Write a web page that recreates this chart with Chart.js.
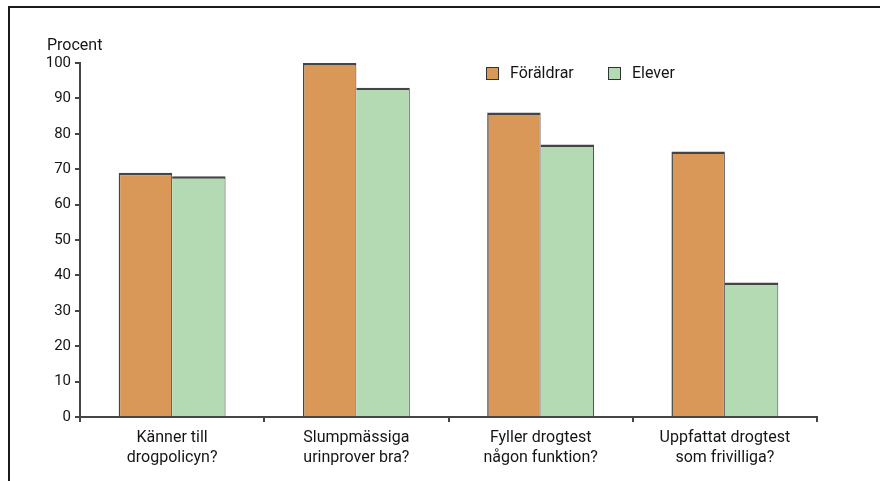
<!DOCTYPE html>
<html>
<head>
<meta charset="utf-8">
<script src="https://cdn.jsdelivr.net/npm/chart.js@4"></script>
<style>
  html, body { margin: 0; padding: 0; background: #fff; }
  #wrap { width: 880px; height: 481px; }
</style>
</head>
<body>
<div id="wrap"><canvas id="chart" width="880" height="481"></canvas></div>
<script>
const categories = [
  ["Känner till", "drogpolicyn?"],
  ["Slumpmässiga", "urinprover bra?"],
  ["Fyller drogtest", "någon funktion?"],
  ["Uppfattat drogtest", "som frivilliga?"],
];
const foraldrar = [69, 100, 86, 75];
const elever = [68, 93, 77, 38];
const yTicks = [0, 10, 20, 30, 40, 50, 60, 70, 80, 90, 100];

const FONT = "'Liberation Sans Narrow', 'Arial Narrow', Roboto, sans-serif";
const ink = "#151515";
const axisGrey = "#454545";

// frame lines, axis title and legend drawn on the canvas
const extras = {
  id: "extras",
  afterDraw(chart) {
    const c = chart.ctx;
    c.save();
    c.strokeStyle = "#1a1a1a";
    c.lineWidth = 2;
    c.beginPath();
    c.moveTo(9, 481);
    c.lineTo(9, 7);
    c.lineTo(880, 7);
    c.stroke();

    c.fillStyle = ink;
    c.font = "16px " + FONT;
    c.textBaseline = "middle";
    c.textAlign = "left";
    c.fillText("Procent", 47, 46);

    let x = 486;
    chart.data.datasets.forEach((ds) => {
      c.fillStyle = ds.backgroundColor;
      c.fillRect(x, 67, 13, 13);
      c.strokeStyle = "#333";
      c.lineWidth = 1;
      c.strokeRect(x + 0.5, 67.5, 12, 12);
      c.fillStyle = ink;
      c.fillText(ds.label, x + 24, 74);
      x += 122;
    });
    c.restore();
  }
};

new Chart(document.getElementById("chart"), {
  type: "bar",
  data: {
    labels: categories,
    datasets: [
      {
        label: "Föräldrar",
        data: foraldrar,
        backgroundColor: "#D99858",
        borderColor: "#444",
        borderWidth: { top: 2.5, left: 1.5, right: 1, bottom: 0 },
        borderSkipped: "bottom",
      },
      {
        label: "Elever",
        data: elever,
        backgroundColor: "#B3DAB2",
        borderColor: "#444",
        borderWidth: { top: 2.5, left: 0, right: 1, bottom: 0 },
        borderSkipped: "bottom",
      },
    ],
  },
  options: {
    responsive: false,
    animation: false,
    devicePixelRatio: 1,
    categoryPercentage: 0.58,
    barPercentage: 1.0,
    layout: { padding: { top: 63, right: 63, left: 0, bottom: 0 } },
    plugins: {
      legend: { display: false },
      tooltip: { enabled: false },
    },
    scales: {
      x: {
        offset: true,
        afterFit: (s) => { s.height = 64; },
        grid: {
          offset: true,
          drawOnChartArea: false,
          drawTicks: true,
          tickLength: 5,
          color: axisGrey,
          lineWidth: 2,
        },
        border: { color: axisGrey, width: 2 },
        ticks: {
          color: ink,
          font: { family: FONT, size: 16, lineHeight: 1.25 },
          padding: 6,
          maxRotation: 0,
          autoSkip: false,
        },
      },
      y: {
        min: 0,
        max: 100,
        afterFit: (s) => { s.width = 80; },
        afterBuildTicks: (s) => { s.ticks = yTicks.map((v) => ({ value: v })); },
        grid: {
          drawOnChartArea: false,
          drawTicks: true,
          tickLength: 5,
          color: axisGrey,
          lineWidth: 2,
        },
        border: { color: axisGrey, width: 2 },
        ticks: {
          color: ink,
          font: { family: FONT, size: 15 },
          padding: 4,
        },
      },
    },
  },
  plugins: [extras],
});
</script>
</body>
</html>
